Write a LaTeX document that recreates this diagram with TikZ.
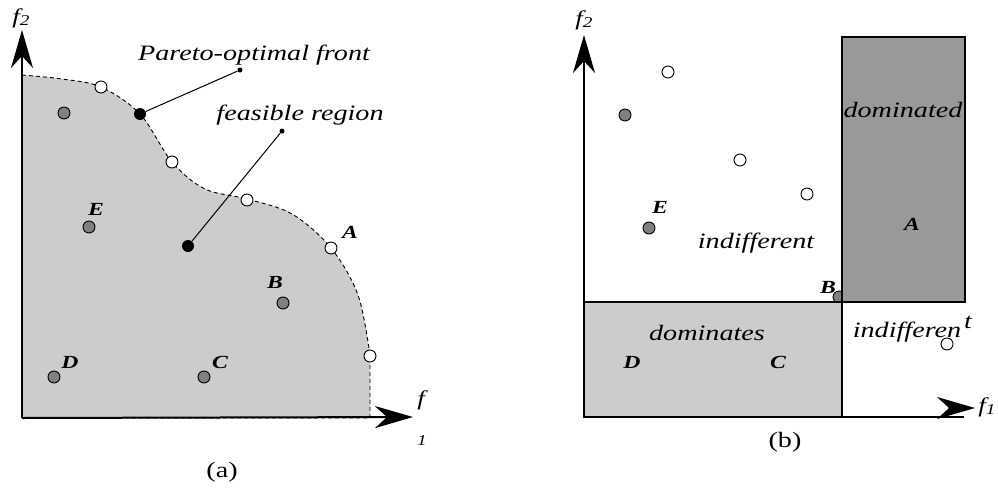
\documentclass[tikz,border=0pt]{standalone}
\usepackage{fontspec}
\setmainfont{Liberation Serif}[FakeStretch=1.28]
\usetikzlibrary{arrows.meta}
\definecolor{PoLight}{RGB}{204,204,204}
\definecolor{PoDark}{RGB}{153,153,153}
\definecolor{PoDot}{RGB}{128,128,128}
\tikzset{
  po/axis/.style={-{Stealth[length=38pt,width=22pt,inset=12pt]}, line width=2pt},
  po/front/.style={dashed, dash pattern=on 4pt off 3pt, line width=0.9pt},
  po/open/.style={circle, draw, fill=white, line width=0.9pt, minimum size=12pt, inner sep=0pt},
  po/grey/.style={circle, draw, fill=PoDot, line width=0.9pt, minimum size=12pt, inner sep=0pt},
  po/black/.style={circle, fill=black, minimum size=12pt, inner sep=0pt},
  po/tip/.style={circle, fill=black, minimum size=5pt, inner sep=0pt},
  po/lead/.style={line width=1pt},
  po/letter/.style={font=\fontsize{18.5}{18.5}\selectfont\bfseries\itshape, inner sep=0pt, anchor=base},
  po/label/.style={font=\fontsize{22}{22}\selectfont\itshape, inner sep=0pt, anchor=base},
  po/axlabel/.style={font=\fontsize{21}{21}\selectfont\itshape, inner sep=0pt},
  po/caption/.style={font=\fontsize{22}{22}\selectfont, inner sep=0pt}
}
\newcommand{\posub}[1]{\raisebox{-2pt}{\fontsize{15}{15}\selectfont #1}}

\begin{document}
\begin{tikzpicture}[x=1pt,y=-1pt]
  \useasboundingbox (0,0) rectangle (998,490);

  % (a) feasible region and front
  \filldraw[fill=PoLight, po/front] (22,418) -- plot[smooth, tension=0.55] coordinates {
    (22,75) (62,79) (101,87) (140,114) (172,162) (205,189) (247,199)
    (292,214) (331,248) (358,295) (370,355)} -- (370,418) -- cycle;

  \coordinate (oa) at (22,418);
  \coordinate (ya) at (22,30);
  \coordinate (xa) at (413,417);
  \draw[po/axis] (oa) -- (ya);
  \draw[po/axis] (oa) -- (xa);
  \node[po/axlabel] (f2a) at (21,18) {f\posub{2}};
  \node[po/axlabel] (f1a) at (421,400) {f};
  \node[font=\fontsize{15}{15}\selectfont\itshape, inner sep=0pt] (s1a) at (422,441) {1};

  \node[po/open] (pa1) at (101,87) {};
  \node[po/open] (pa2) at (172,162) {};
  \node[po/open] (pa3) at (247,200) {};
  \node[po/open] (pA) at (331,248) {};
  \node[po/open] (pa5) at (370,356) {};
  \node[po/black] (pfront) at (140,114) {};
  \node[po/black] (pfeas) at (188,246) {};
  \node[po/grey] (pg1) at (64,113) {};
  \node[po/grey] (pE) at (89,227) {};
  \node[po/grey] (pB) at (283,303) {};
  \node[po/grey] (pD) at (54,377) {};
  \node[po/grey] (pC) at (204,377) {};

  \node[po/tip] (tfront) at (240,70) {};
  \node[po/tip] (tfeas) at (282,131) {};
  \draw[po/lead] (pfront) -- (tfront);
  \draw[po/lead] (pfeas) -- (tfeas);
  \node[po/label] (lfront) at (254,60) {Pareto-optimal front};
  \node[po/label] (lfeas) at (300,120) {feasible region};

  \node[po/letter] (lE) at (96,215) {E};
  \node[po/letter] (lA) at (350,238) {A};
  \node[po/letter] (lB) at (275,288) {B};
  \node[po/letter] (lD) at (70,368) {D};
  \node[po/letter] (lC) at (220,368) {C};
  \node[po/caption] (capa) at (222,472) {(a)};

  % (b) dominance regions of B
  \node[po/grey] (qB) at (839,297) {};
  \filldraw[fill=PoDark, line width=2pt] (842,37) rectangle (965,302);
  \filldraw[fill=PoLight, line width=2pt] (584,302) rectangle (842,417);
  \coordinate (ob) at (584,417);
  \coordinate (yb) at (584,35);
  \coordinate (xbe) at (964,417);
  \coordinate (xbs) at (962,408);
  \coordinate (xb) at (975,408);
  \draw[po/axis] (ob) -- (yb);
  \draw[line width=2pt] (842,417) -- (xbe);
  \draw[po/axis] (xbs) -- (xb);
  \node[po/axlabel] (f2b) at (584,20) {f\posub{2}};
  \node[po/axlabel] (f1b) at (987,407) {f\posub{1}};

  \node[po/open] (qa1) at (668,72) {};
  \node[po/open] (qa2) at (740,160) {};
  \node[po/open] (qa3) at (807,194) {};
  \node[po/open] (qa5) at (947,344) {};
  \node[po/grey] (qg1) at (625,115) {};
  \node[po/grey] (qE) at (649,228) {};

  \node[po/label] (ldomd) at (903,117) {dominated};
  \node[po/label] (lind1) at (756,248) {indifferent};
  \node[po/label] (ldoms) at (707,340) {dominates};
  \node[po/label] (lind2) at (907,337) {indifferen};
  \node[po/label] (lind2t) at (968,328) {t};

  \node[po/letter] (mE) at (660,213) {E};
  \node[po/letter] (mA) at (912,230) {A};
  \node[po/letter] (mB) at (828,293) {B};
  \node[po/letter] (mD) at (632,368) {D};
  \node[po/letter] (mC) at (778,368) {C};
  \node[po/caption] (capb) at (785,442) {(b)};
\end{tikzpicture}
\end{document}
